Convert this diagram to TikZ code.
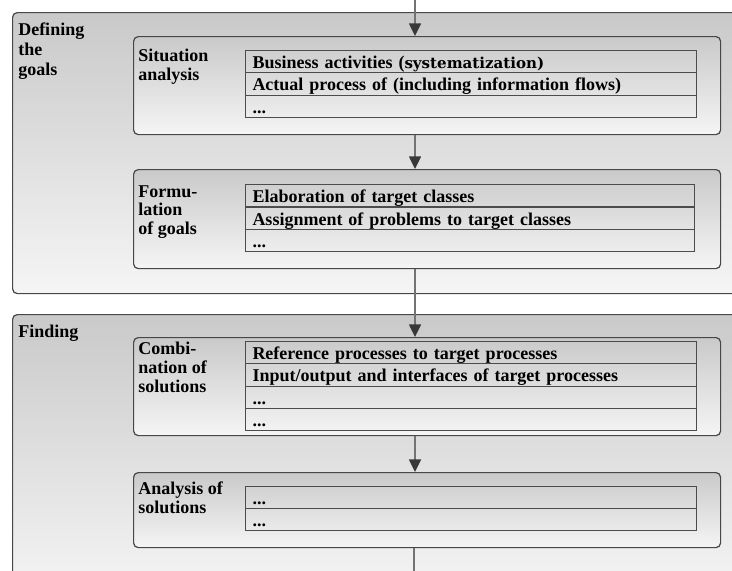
\documentclass[tikz,border=0pt]{standalone}
\usepackage{fontspec}
\setmainfont{Liberation Serif}
\newfontfamily\dvserif{DejaVu Serif}[BoldFont={DejaVu Serif Bold}]
\usetikzlibrary{arrows.meta}
\begin{document}
\begin{tikzpicture}[x=0.75pt,y=-0.75pt,
  bigbox/.style={draw=black!72, line width=0.9pt, rounded corners=3.5pt,
    top color=black!21, bottom color=black!4, anchor=north west, inner sep=0pt},
  outerbox/.style={bigbox, minimum width=549.75pt},
  innerbox/.style={bigbox, minimum width=440.25pt},
  tabrow/.style={draw=black!70, line width=0.75pt, anchor=north west,
    inner xsep=5.25pt, inner ysep=0pt, text height=13.5pt, text depth=3.2pt,
    minimum height=16.7pt, text width=327.75pt, align=left,
    font=\bfseries\fontsize{13.5pt}{15pt}\selectfont},
  tabrowb/.style={tabrow, text width=326.25pt},
  lbl/.style={anchor=base west, inner sep=0pt, align=left,
    font=\bfseries\fontsize{13.5pt}{14pt}\selectfont},
  conn/.style={draw=black!55, line width=1.1pt,
    -{Triangle[width=9pt,length=9.5pt,color=black!78]}},
  plainline/.style={draw=black!55, line width=1.1pt}
]
\useasboundingbox (0,0) rectangle (732,571);
\clip (0,0) rectangle (732,571);

% outer boxes
\node[outerbox, minimum height=210.75pt] (goals) at (12,12) {};
\node[outerbox, minimum height=210pt] (finding) at (12,314) {};

% inner boxes
\node[innerbox, minimum height=73.5pt] (sit) at (133,36) {};
\node[innerbox, minimum height=74.25pt] (form) at (133,169) {};
\node[innerbox, minimum height=73.5pt] (comb) at (133,337) {};
\node[innerbox, minimum height=56.25pt] (anal) at (133,472) {};

% labels (anchor = baseline of the last line)
\node[lbl, font=\bfseries\fontsize{13.5pt}{15pt}\selectfont] (lgoals) at (18,75) {Defining\\the\\goals};
\node[lbl] (lsit) at (138,80) {Situation\\analysis};
\node[lbl] (lform) at (138,234.5) {Formu-\\lation\\of goals};
\node[lbl] (lfind) at (18,337) {Finding};
\node[lbl] (lcomb) at (138,392) {Combi-\\nation of\\solutions};
\node[lbl] (lanal) at (138,513) {Analysis of\\solutions};

% table 1
\node[tabrow] (t1a) at (245,50) {Business activities ({\dvserif\bfseries\fontsize{11.3pt}{14pt}\selectfont systematization)}};
\node[tabrow] (t1b) at (245,72.3) {Actual process of (including information flows)};
\node[tabrow] (t1c) at (245,94.6) {...};

% table 2
\node[tabrowb] (t2a) at (245,184) {Elaboration of target classes};
\node[tabrowb] (t2b) at (245,206.5) {Assignment of problems to target classes};
\node[tabrowb] (t2c) at (245,229) {...};

% table 3
\node[tabrow] (t3a) at (245,341) {Reference processes to target processes};
\node[tabrow] (t3b) at (245,363.3) {Input/output and interfaces of target processes};
\node[tabrow] (t3c) at (245,385.6) {...};
\node[tabrow] (t3d) at (245,407.9) {...};

% table 4
\node[tabrow] (t4a) at (245,485.5) {...};
\node[tabrow] (t4b) at (245,507.8) {...};

% connectors
\coordinate (in) at (415,0);
\coordinate (out) at (414,571);
\draw[conn] (in) -- (in |- sit.north);
\draw[conn] (sit.south -| in) -- (form.north -| in);
\draw[conn] (form.south -| in) -- (comb.north -| in);
\draw[conn] (comb.south -| in) -- (anal.north -| in);
\draw[plainline] (anal.south -| out) -- (out);
\end{tikzpicture}
\end{document}
